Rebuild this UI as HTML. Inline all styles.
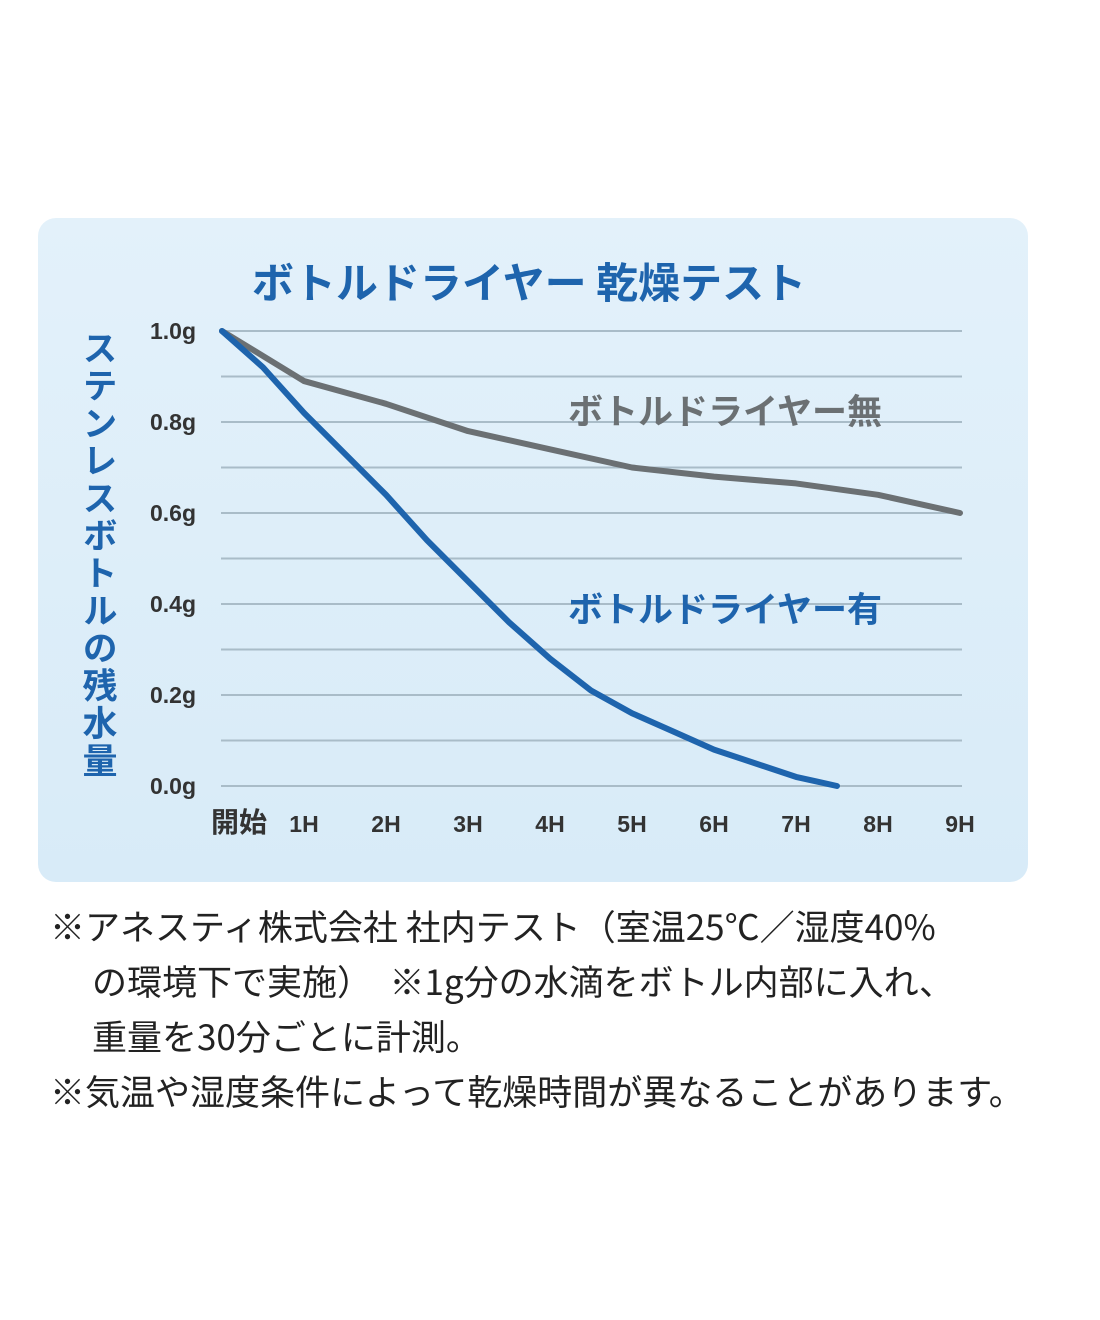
<!DOCTYPE html>
<html><head><meta charset="utf-8"><style>
body{margin:0;background:#fff;width:1100px;height:1320px;position:relative;overflow:hidden;font-family:"Liberation Sans","Noto Sans CJK JP",sans-serif;}
#panel{position:absolute;left:38px;top:218px;width:990px;height:664px;border-radius:18px;background:linear-gradient(180deg,#e3f1fa,#d8ebf8);}
.note{position:absolute;font-size:35px;color:#222;white-space:nowrap;font-family:"Noto Sans CJK JP",sans-serif;line-height:1.2;}
</style></head><body>
<div id="panel"></div>
<svg id="chart" width="1100" height="1320" style="position:absolute;left:0;top:0">
<text x="529" y="298" text-anchor="middle" font-size="42" font-weight="bold" fill="#1e64ad" font-family="Noto Sans CJK JP,sans-serif">ボトルドライヤー 乾燥テスト</text>
<text x="100" y="330" font-size="35" font-weight="bold" fill="#1e64ad" font-family="Noto Sans CJK JP,sans-serif" writing-mode="tb" glyph-orientation-vertical="0" letter-spacing="2.5">ステンレスボトルの残水量</text>
<g id="grid"></g><g id="ylabels"></g><g id="xlabels"></g><g id="series"></g>
<text x="725" y="424" text-anchor="middle" font-size="35" font-weight="bold" fill="#6b7073" font-family="Noto Sans CJK JP,sans-serif">ボトルドライヤー無</text>
<text x="725" y="622" text-anchor="middle" font-size="35" font-weight="bold" fill="#1e64ad" font-family="Noto Sans CJK JP,sans-serif">ボトルドライヤー有</text>
</svg>
<div class="note" style="left:50px;top:905px">※アネスティ株式会社 社内テスト（室温25℃／湿度40%</div>
<div class="note" style="left:92px;top:960px">の環境下で実施）　※1g分の水滴をボトル内部に入れ、</div>
<div class="note" style="left:92px;top:1015px">重量を30分ごとに計測。</div>
<div class="note" style="left:50px;top:1070px">※気温や湿度条件によって乾燥時間が異なることがあります。</div>
<script>
const yTicks=[0,0.2,0.4,0.6,0.8,1.0];
const yTickLabels=["0.0g","0.2g","0.4g","0.6g","0.8g","1.0g"];
const xTickLabels=["開始","1H","2H","3H","4H","5H","6H","7H","8H","9H"];
const grayHours=[0,1,2,3,4,5,6,7,8,9];
const grayValues=[1.0,0.89,0.84,0.78,0.74,0.70,0.68,0.665,0.64,0.60];
const blueHours=[0,0.5,1,2,2.5,3,3.5,4,4.5,5,5.5,6,6.5,7,7.25,7.5];
const blueValues=[1.0,0.92,0.82,0.64,0.54,0.45,0.36,0.28,0.21,0.16,0.12,0.08,0.05,0.02,0.01,0.0];
const NS="http://www.w3.org/2000/svg";
const X=h=>222+82*h, Y=v=>786-455*v;
const grid=document.getElementById('grid');
for(let i=0;i<=10;i++){const l=document.createElementNS(NS,'line');


const y=Y(i/10);l.setAttribute('x1',221);l.setAttribute('x2',962);l.setAttribute('y1',y);l.setAttribute('y2',y);l.setAttribute('stroke','#a9bcc8');l.setAttribute('stroke-width','2');grid.appendChild(l);}
const yl=document.getElementById('ylabels');
yTicks.forEach((v,i)=>{const t=document.createElementNS(NS,'text');


t.setAttribute('x',196);t.setAttribute('y',Y(v)+8);t.setAttribute('text-anchor','end');t.setAttribute('font-size','23');t.setAttribute('font-weight','bold');t.setAttribute('fill','#333');t.textContent=yTickLabels[i];yl.appendChild(t);});
const xl=document.getElementById('xlabels');
xTickLabels.forEach((s,i)=>{const t=document.createElementNS(NS,'text');


t.setAttribute('x',i===0?239:X(i));t.setAttribute('y',832);t.setAttribute('text-anchor','middle');t.setAttribute('font-size',i===0?'28':'23');t.setAttribute('font-weight','bold');t.setAttribute('fill','#333');t.setAttribute('font-family','Liberation Sans,Noto Sans CJK JP,sans-serif');t.textContent=s;xl.appendChild(t);});
const ser=document.getElementById('series');
function line(hs,vs,color,name){const p=document.createElementNS(NS,'polyline');


p.setAttribute('points',hs.map((h,i)=>X(h)+','+Y(vs[i])).join(' '));p.setAttribute('fill','none');p.setAttribute('stroke',color);p.setAttribute('stroke-width','6');p.setAttribute('stroke-linejoin','round');p.setAttribute('stroke-linecap','round');ser.appendChild(p);}
line(grayHours,grayValues,'#6b7073','series-without-dryer');
line(blueHours,blueValues,'#1e64ad','series-with-dryer');
</script>
</body></html>
